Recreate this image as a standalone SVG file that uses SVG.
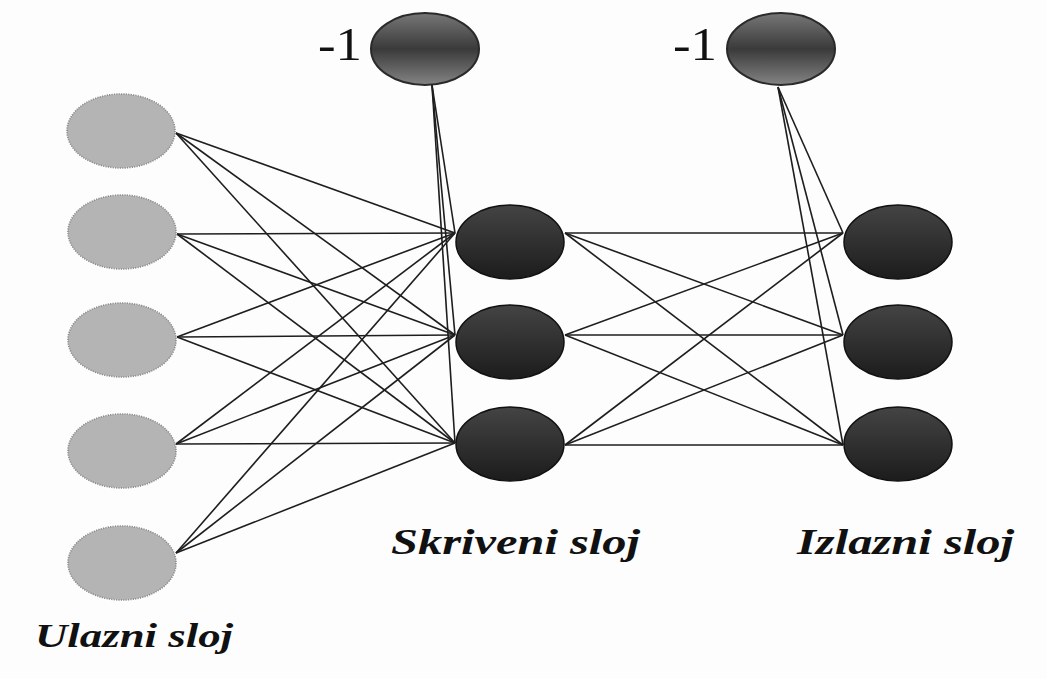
<svg xmlns="http://www.w3.org/2000/svg" width="1047" height="679" viewBox="0 0 1047 679">
<defs>
<linearGradient id="gDark" x1="0" y1="0" x2="0" y2="1">
<stop offset="0" stop-color="#444"/>
<stop offset="1" stop-color="#1c1c1c"/>
</linearGradient>
<linearGradient id="gBias" x1="0" y1="0" x2="0" y2="1">
<stop offset="0" stop-color="#777"/>
<stop offset="0.5" stop-color="#3a3a3a"/>
<stop offset="1" stop-color="#848484"/>
</linearGradient>
<style>
.in{fill:#b4b4b4;stroke:#8a8a8a;stroke-width:1.6;stroke-dasharray:1.2 1.2}
.dk{fill:url(#gDark);stroke:#111;stroke-width:1.5}
.bias{fill:url(#gBias);stroke:#2a2a2a;stroke-width:2}
.lbl{font-weight:bold;font-style:italic;fill:#111}
.num{fill:#111}
#connectors line{stroke:#1e1e1e;stroke-width:1.6}
</style>
</defs>
<rect width="1047" height="679" fill="#fdfdfd"/>
<g id="connectors">
<line x1="176" y1="133" x2="455" y2="233"/>
<line x1="176" y1="133" x2="455" y2="335"/>
<line x1="176" y1="133" x2="455" y2="443"/>
<line x1="177" y1="234" x2="455" y2="233"/>
<line x1="177" y1="234" x2="455" y2="335"/>
<line x1="177" y1="234" x2="455" y2="443"/>
<line x1="177" y1="337" x2="455" y2="233"/>
<line x1="177" y1="337" x2="455" y2="335"/>
<line x1="177" y1="337" x2="455" y2="443"/>
<line x1="176" y1="444" x2="455" y2="233"/>
<line x1="176" y1="444" x2="455" y2="335"/>
<line x1="176" y1="444" x2="455" y2="443"/>
<line x1="176" y1="553" x2="455" y2="233"/>
<line x1="176" y1="553" x2="455" y2="335"/>
<line x1="176" y1="553" x2="455" y2="443"/>
<line x1="432" y1="85" x2="455" y2="233"/>
<line x1="432" y1="85" x2="455" y2="335"/>
<line x1="432" y1="85" x2="455" y2="443"/>
<line x1="565" y1="233" x2="843" y2="233"/>
<line x1="565" y1="233" x2="843" y2="335"/>
<line x1="565" y1="233" x2="843" y2="445"/>
<line x1="565" y1="335" x2="843" y2="233"/>
<line x1="565" y1="335" x2="843" y2="335"/>
<line x1="565" y1="335" x2="843" y2="445"/>
<line x1="565" y1="445" x2="843" y2="233"/>
<line x1="565" y1="445" x2="843" y2="335"/>
<line x1="565" y1="445" x2="843" y2="445"/>
<line x1="778" y1="87" x2="843" y2="233"/>
<line x1="778" y1="87" x2="843" y2="335"/>
<line x1="778" y1="87" x2="843" y2="445"/>
</g>
<g id="in1"><ellipse class="in" cx="121" cy="131" rx="54" ry="37"/></g>
<g id="in2"><ellipse class="in" cx="122" cy="232" rx="54" ry="37"/></g>
<g id="in3"><ellipse class="in" cx="122" cy="340" rx="54" ry="37"/></g>
<g id="in4"><ellipse class="in" cx="122" cy="451" rx="54" ry="37"/></g>
<g id="in5"><ellipse class="in" cx="122" cy="563" rx="54" ry="37"/></g>
<g id="bias1"><ellipse class="bias" cx="425" cy="49" rx="54" ry="36"/><text class="num" x="318" y="60" font-family="Liberation Serif, DejaVu Serif, serif" font-size="47" textLength="44" lengthAdjust="spacingAndGlyphs">-1</text></g>
<g id="bias2"><ellipse class="bias" cx="781" cy="49" rx="54" ry="36"/><text class="num" x="673" y="60" font-family="Liberation Serif, DejaVu Serif, serif" font-size="47" textLength="44" lengthAdjust="spacingAndGlyphs">-1</text></g>
<g id="h1"><ellipse class="dk" cx="510" cy="242" rx="54" ry="37"/></g>
<g id="h2"><ellipse class="dk" cx="510" cy="342" rx="54" ry="37"/></g>
<g id="h3"><ellipse class="dk" cx="510" cy="444" rx="54" ry="37"/></g>
<g id="o1"><ellipse class="dk" cx="898" cy="242" rx="54" ry="37"/></g>
<g id="o2"><ellipse class="dk" cx="898" cy="342" rx="54" ry="37"/></g>
<g id="o3"><ellipse class="dk" cx="898" cy="444" rx="54" ry="37"/></g>
<g id="labels" font-family="Liberation Serif, DejaVu Serif, serif">
<text class="lbl" x="35" y="647" font-size="33" textLength="198" lengthAdjust="spacingAndGlyphs">Ulazni sloj</text>
<text class="lbl" x="391" y="554" font-size="36" textLength="249" lengthAdjust="spacingAndGlyphs">Skriveni sloj</text>
<text class="lbl" x="797" y="554" font-size="36" textLength="217" lengthAdjust="spacingAndGlyphs">Izlazni sloj</text>
</g>
</svg>
